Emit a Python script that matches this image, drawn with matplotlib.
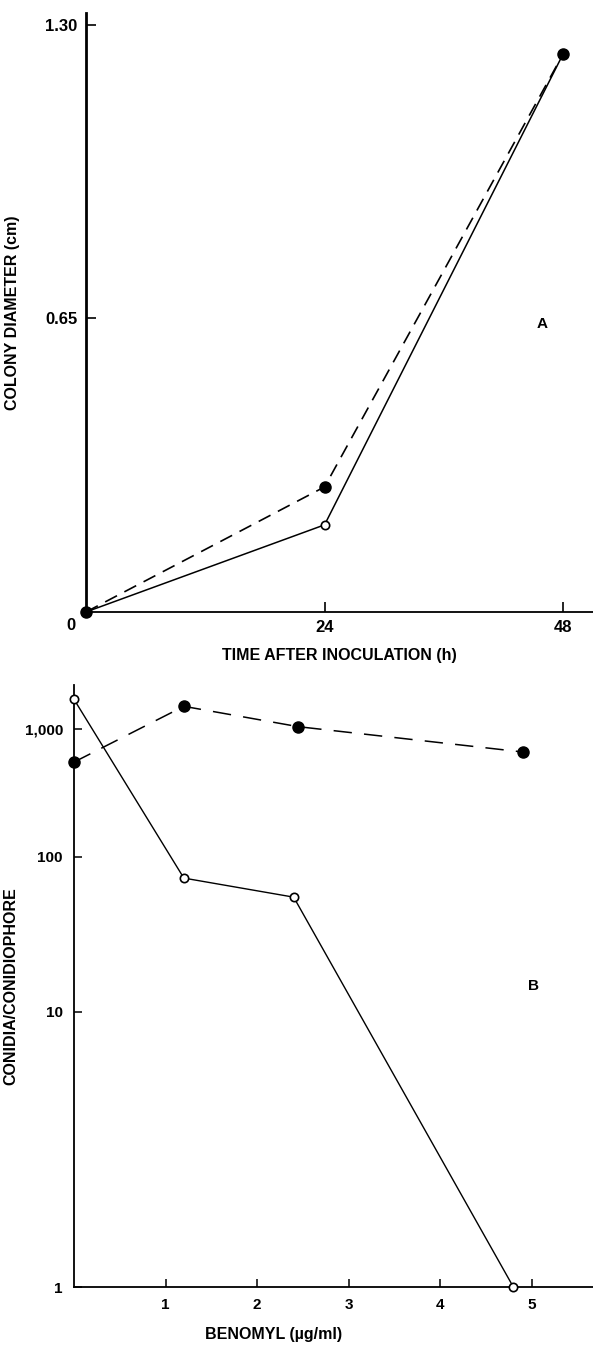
import numpy as np
import matplotlib
matplotlib.use('Agg')
import matplotlib.pyplot as plt
from matplotlib.ticker import NullLocator

plt.rcParams['font.family'] = ['Liberation Sans', 'DejaVu Sans']
plt.rcParams['font.weight'] = 'bold'
plt.rcParams['axes.labelweight'] = 'bold'

# Panel A: colony diameter over time
time_h = [0, 24, 48]
diam_filled = [0, 0.277, 1.236]
diam_open = [0, 0.193, 1.236]
a_yticks = [0.65, 1.30]
a_yticklabels = ['0.65', '1.30']
a_xticks = [24, 48]

# Panel B: conidia per conidiophore vs benomyl
benomyl_open = [0, 1.2, 2.4, 4.8]
conidia_open = [1700, 73, 55, 1]
benomyl_filled = [0, 1.2, 2.45, 4.9]
conidia_filled = [550, 1500, 1040, 660]
b_yticks = [1, 10, 100, 1000]
b_yticklabels = ['1', '10', '100', '1,000']
b_xticks = [1, 2, 3, 4, 5]

# the printed log axis is hand drawn, decades are not evenly spaced
decade_log = [0, 1, 2, 3, 4]
decade_pos = [0, 275, 430, 558, 686]


def fwd(v):
    v = np.clip(np.asarray(v, dtype=float), 1e-3, None)
    return np.interp(np.log10(v), decade_log, decade_pos)


def inv(p):
    return 10 ** np.interp(p, decade_pos, decade_log)


fig = plt.figure(figsize=(5.93, 13.45), dpi=100)

# ---------------- panel A ----------------
ax1 = fig.add_axes([0.145, 0.545, 0.855, 0.4455])
ax1.plot(time_h, diam_open, color='black', lw=1.1, marker='o', ms=6,
         mfc='white', mec='black', mew=1.2, clip_on=False, zorder=3)
ax1.plot(time_h, diam_filled, color='black', lw=1.2, linestyle=(0, (8, 5)),
         marker='o', ms=8, mfc='black', mec='black', clip_on=False, zorder=4)
ax1.set_xlim(0, 51.0)
ax1.set_ylim(0, 1.327)
ax1.set_xticks(a_xticks)
ax1.set_yticks(a_yticks)
ax1.set_yticklabels(a_yticklabels)
ax1.tick_params(direction='in', length=7, width=1.2, labelsize=12, pad=6)
ax1.annotate('0', xy=(0, 0), xytext=(-11, -10), textcoords='offset points',
             ha='center', va='center', fontsize=12, fontweight='bold')
ax1.set_xlabel('TIME AFTER INOCULATION (h)', fontsize=11.5, labelpad=9)
ax1.set_ylabel('COLONY DIAMETER (cm)', fontsize=11.5)
ax1.yaxis.set_label_coords(-0.130, 0.5)
ax1.text(0.899, 0.4806, 'A', transform=ax1.transAxes, fontsize=11,
         fontweight='bold', ha='center', va='center')
for s in ['top', 'right']:
    ax1.spines[s].set_visible(False)
ax1.spines['left'].set_linewidth(2.0)
ax1.spines['bottom'].set_linewidth(1.3)

# ---------------- panel B ----------------
ax2 = fig.add_axes([0.1248, 0.0431, 0.8752, 0.4476])
ax2.set_yscale('function', functions=(fwd, inv))
ax2.plot(benomyl_open, conidia_open, color='black', lw=1.0, marker='o', ms=6,
         mfc='white', mec='black', mew=1.2, clip_on=False, zorder=3)
ax2.plot(benomyl_filled, conidia_filled, color='black', lw=1.1,
         linestyle=(0, (12, 8)), marker='o', ms=8, mfc='black', mec='black',
         clip_on=False, zorder=4)
ax2.set_xlim(0, 5.67)
ax2.set_ylim(1, 2200)
ax2.set_xticks(b_xticks)
ax2.set_yticks(b_yticks)
ax2.set_yticklabels(b_yticklabels)
ax2.yaxis.set_minor_locator(NullLocator())
ax2.tick_params(direction='in', length=6, width=1.1, labelsize=11, pad=8)
ax2.set_xlabel('BENOMYL (\u00b5g/ml)', fontsize=11.5)
ax2.xaxis.set_label_coords(0.385, -0.066)
ax2.set_ylabel('CONIDIA/CONIDIOPHORE', fontsize=11.5)
ax2.yaxis.set_label_coords(-0.108, 0.5)
ax2.text(0.885, 0.50, 'B', transform=ax2.transAxes, fontsize=11,
         fontweight='bold', ha='center', va='center')
for s in ['top', 'right']:
    ax2.spines[s].set_visible(False)
ax2.spines['left'].set_linewidth(1.3)
ax2.spines['bottom'].set_linewidth(1.3)

fig.savefig('out.png', dpi=100)
